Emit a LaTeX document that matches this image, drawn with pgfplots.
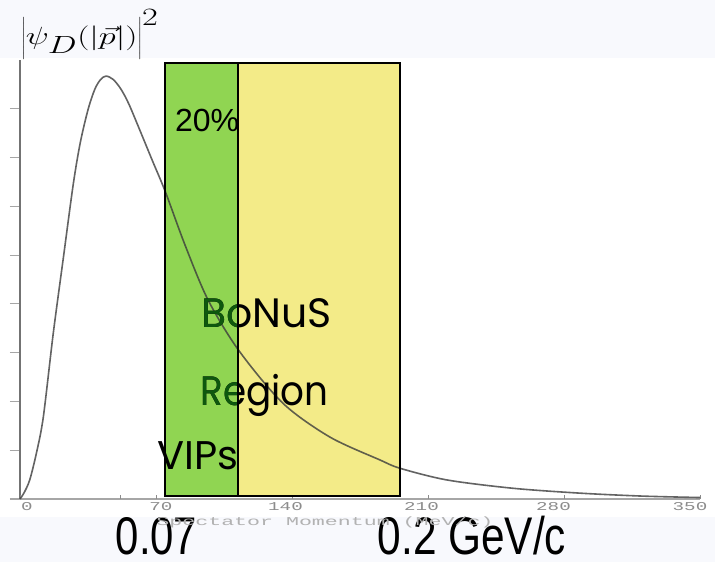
\documentclass[border=0pt]{standalone}
\usepackage{pgfplots}
\pgfplotsset{compat=1.18}
\usepackage{fontspec}
\setmainfont{Liberation Sans}
\newfontfamily\comic{Poppins}
\newfontfamily\mono{Liberation Mono}

\definecolor{bgtint}{RGB}{248,249,253}
\definecolor{boxgreen}{RGB}{144,213,82}
\definecolor{boxyellow}{RGB}{243,235,136}
\definecolor{textgreen}{RGB}{14,88,14}
\definecolor{curvegray}{RGB}{60,60,60}

% wide, pale monospace used for the scale of the scanned plot
\newcommand\widemono[1]{\scalebox{1.6}[1]{#1}}
% tick label nudged right (#1 = twice the shift) or left
\newcommand\tlr[2]{\hspace*{#1}\widemono{#2}}
\newcommand\tll[2]{\widemono{#2}\hspace*{#1}}

\begin{document}
\begin{tikzpicture}
% slide background and the white scanned plot area
\fill[bgtint] (-20pt,-63pt) rectangle (695pt,499pt);
\fill[white] (-20pt,-18pt) rectangle (695pt,441pt);
\begin{axis}[
  at={(0pt,0pt)}, anchor=south west,
  scale only axis, width=680pt, height=439pt,
  xmin=0, xmax=350, ymin=0, ymax=9,
  axis x line*=bottom, axis y line*=left,
  x axis line style={draw=black!35, line width=1.3pt, shorten <=-10pt},
  y axis line style={draw=black!55, line width=1.8pt},
  xtick=\empty,
  ytick={1,2,3,4,5,6,7,8}, yticklabels={},
  ytick align=outside, major tick length=10pt,
  y tick style={draw=black!35, line width=0.8pt},
  extra x ticks={0,51.5,70,140,210,280,350},
  extra x tick labels={\tlr{14pt}{0},,\tlr{10pt}{70},\tll{13pt}{140},\tll{13pt}{210},\tll{21pt}{280},\tll{20pt}{350}},
  extra x tick style={major tick length=4pt, tick align=inside,
    tick style={draw=black!45, line width=0.8pt}},
  xticklabel style={font=\mono\fontsize{12}{12}\selectfont, text=black!45,
    anchor=center, yshift=-8pt},
  xlabel={\scalebox{1.8}[1]{Spectator Momentum (MeV/c)}},
  xlabel style={font=\mono\fontsize{12}{12}\selectfont, text=black!30,
    at={(rel axis cs:0.4485,-0.0524)}, anchor=center},
  clip=false,
]
% BoNuS acceptance bands
\addplot[fill=boxyellow, draw=none] coordinates {(112.2,0.06) (195.6,0.06) (195.6,8.93) (112.2,8.93)} -- cycle;
\addplot[fill=boxgreen, draw=none] coordinates {(74.6,0.06) (112.2,0.06) (112.2,8.93) (74.6,8.93)} -- cycle;

% deuteron momentum distribution
\addplot[curvegray, line width=1.6pt, opacity=0.8, smooth] coordinates {
  (0,0) (2,0.12) (5,0.39) (8.5,0.95) (12,1.68) (17.1,3.39) (22.3,4.94)
  (27.4,6.45) (31,7.3) (35,7.98) (38.5,8.4) (41.5,8.6) (44.3,8.67)
  (48,8.6) (52,8.4) (56,8.1) (61.8,7.55) (68,6.95) (74.9,6.29)
  (85,5.2) (96.8,4.08) (112.7,3.04) (135.4,1.96) (159.5,1.27)
  (185.3,0.80) (195.6,0.63) (219.8,0.39) (253.7,0.22) (288.2,0.12)
  (320,0.06) (350,0.03)
};

% region labels, dark green where they sit on the green band
\node[font=\comic\fontsize{41}{41}\selectfont, anchor=base west] at (axis cs:91.6,3.526) {BoNuS};
\node[font=\comic\fontsize{41}{41}\selectfont, anchor=base west] at (axis cs:91.1,1.927) {\scalebox{0.91}[1]{Region}};
\begin{scope}
  \clip (axis cs:74.6,0.06) rectangle (axis cs:112.2,8.93);
  \node[font=\comic\fontsize{41}{41}\selectfont, anchor=base west, text=textgreen] at (axis cs:91.6,3.526) {BoNuS};
  \node[font=\comic\fontsize{41}{41}\selectfont, anchor=base west, text=textgreen] at (axis cs:91.1,1.927) {\scalebox{0.91}[1]{Region}};
\end{scope}

% band outlines
\addplot[draw=black, line width=2pt] coordinates {(112.2,0.06) (195.6,0.06) (195.6,8.93) (112.2,8.93)} -- cycle;
\addplot[draw=black, line width=2pt] coordinates {(74.6,0.06) (112.2,0.06) (112.2,8.93) (74.6,8.93)} -- cycle;

\node[font=\fontsize{32}{32}\selectfont, anchor=base west] at (axis cs:78.0,7.524) {20\%};
\node[font=\comic\fontsize{40}{40}\selectfont, anchor=base west] at (axis cs:69.0,0.595) {VIPs};

% axis title and momentum limits
\node[font=\fontsize{33}{33}\selectfont, inner sep=0pt] at (axis cs:36.0,9.52) {\scalebox{1.38}[1]{$\left|\rule[-0.42em]{0pt}{1.3em}\psi_D(|\vec{p}|)\right|^2$}};
\node[anchor=base, inner sep=0pt] at (axis cs:70.26,-1.128) {\scalebox{0.79}[1]{\fontsize{53}{53}\selectfont 0.07}};
\node[anchor=base, inner sep=0pt] at (axis cs:232.6,-1.128) {\scalebox{0.8}[1]{\fontsize{53}{53}\selectfont 0.2 GeV/c}};
\end{axis}
% the page is exactly the slide area
\pgfresetboundingbox
\path[use as bounding box] (-20pt,-63pt) rectangle (695pt,499pt);
\end{tikzpicture}
\end{document}
